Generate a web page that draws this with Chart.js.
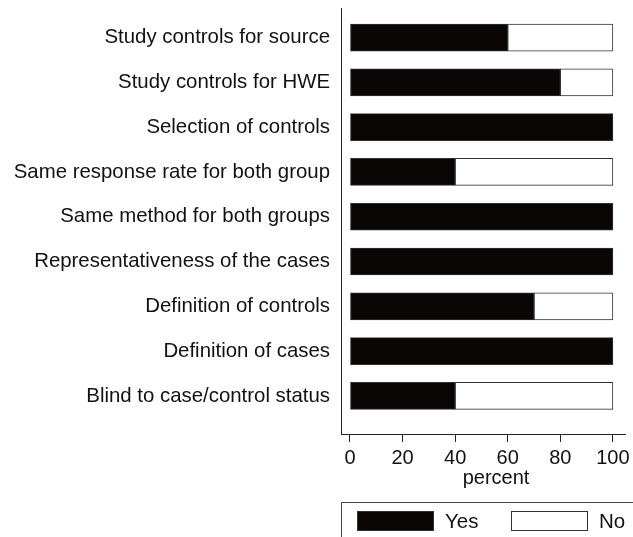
<!DOCTYPE html>
<html>
<head>
<meta charset="utf-8">
<script src="https://cdn.jsdelivr.net/npm/chart.js@4/dist/chart.umd.min.js"></script>
<style>
  html, body { margin: 0; padding: 0; background: #fff; }
  #wrap { width: 633px; height: 537px; }
</style>
</head>
<body>
<div id="wrap"><canvas id="chart"></canvas></div>
<script>
const categories = [
  "Study controls for source",
  "Study controls for HWE",
  "Selection of controls",
  "Same response rate for both group",
  "Same method for both groups",
  "Representativeness of the cases",
  "Definition of controls",
  "Definition of cases",
  "Blind to case/control status"
];
const yesValues = [60, 80, 100, 40, 100, 100, 70, 100, 40];
const noValues = [40, 20, 0, 60, 0, 0, 30, 0, 60];
const xTicks = [0, 20, 40, 60, 80, 100];
const seriesNames = ["Yes", "No"];
const xTitle = "percent";

const FONT = "'Liberation Sans', Arial, sans-serif";
const lineColor = "#222";

// axis title (sits right of centre in the original) and the boxed legend
const extras = {
  id: "extras",
  afterDraw(chart) {
    const ctx = chart.ctx;
    const left = chart.chartArea.left;
    const top = 502;
    ctx.save();
    ctx.fillStyle = "#111";
    ctx.font = "20px " + FONT;
    ctx.textAlign = "center";
    ctx.textBaseline = "middle";
    ctx.fillText(xTitle, 496, 478);

    ctx.strokeStyle = "#444";
    ctx.lineWidth = 1;
    ctx.beginPath();
    ctx.moveTo(left + 0.5, chart.height);
    ctx.lineTo(left + 0.5, top + 0.5);
    ctx.lineTo(chart.width, top + 0.5);
    ctx.stroke();

    const items = chart.data.datasets;
    const swX = [357, 511];
    ctx.font = "20.5px " + FONT;
    ctx.textAlign = "left";
    items.forEach((ds, i) => {
      ctx.fillStyle = ds.backgroundColor;
      ctx.fillRect(swX[i], 511, 76, 20);
      ctx.strokeStyle = "#333";
      ctx.strokeRect(swX[i] + 0.5, 511.5, 76, 19);
      ctx.fillStyle = "#111";
      ctx.fillText(ds.label, swX[i] + 88, 522);
    });
    ctx.restore();
  }
};

new Chart(document.getElementById("chart"), {
  type: "bar",
  data: {
    datasets: [
      {
        label: seriesNames[0],
        data: yesValues.map((v, i) => ({ x: v, y: i })),
        backgroundColor: "#0a0606",
        borderColor: "#333",
        borderWidth: 1,
        borderSkipped: false,
        barThickness: 27
      },
      {
        label: seriesNames[1],
        data: noValues.map((v, i) => ({ x: v, y: i })),
        backgroundColor: "#ffffff",
        borderColor: "#333",
        borderWidth: 1,
        borderSkipped: false,
        barThickness: 27
      }
    ]
  },
  options: {
    indexAxis: "y",
    responsive: true,
    maintainAspectRatio: false,
    animation: false,
    layout: { padding: { top: 8, right: 8, left: 0, bottom: 0 } },
    plugins: {
      legend: { display: false },
      tooltip: { enabled: false }
    },
    scales: {
      x: {
        type: "linear",
        stacked: true,
        offset: false,
        min: -3.42,
        max: 104.6,
        afterBuildTicks: (scale) => {
          scale.ticks = xTicks.map((v) => ({ value: v }));
        },
        afterFit: (scale) => {
          scale.height = 103;
          scale.paddingLeft = 0;
          scale.paddingRight = 0;
        },
        grid: {
          display: true,
          drawOnChartArea: false,
          drawTicks: true,
          tickLength: 8,
          color: lineColor
        },
        border: { display: true, color: lineColor, width: 1 },
        ticks: {
          color: "#111",
          padding: 4,
          maxRotation: 0,
          font: { family: FONT, size: 20 }
        }
      },
      y: {
        type: "linear",
        stacked: true,
        reverse: true,
        offset: false,
        min: -0.66,
        max: 8.85,
        afterBuildTicks: (scale) => {
          scale.ticks = categories.map((c, i) => ({ value: i }));
        },
        afterFit: (scale) => {
          scale.width = 341;
          scale.paddingTop = 0;
          scale.paddingBottom = 0;
        },
        grid: { display: false, drawTicks: false, offset: false },
        border: { display: true, color: lineColor, width: 1 },
        ticks: {
          color: "#111",
          padding: 11,
          autoSkip: false,
          font: { family: FONT, size: 20.4 },
          callback: (v) => categories[v]
        }
      }
    }
  },
  plugins: [extras]
});
</script>
</body>
</html>
